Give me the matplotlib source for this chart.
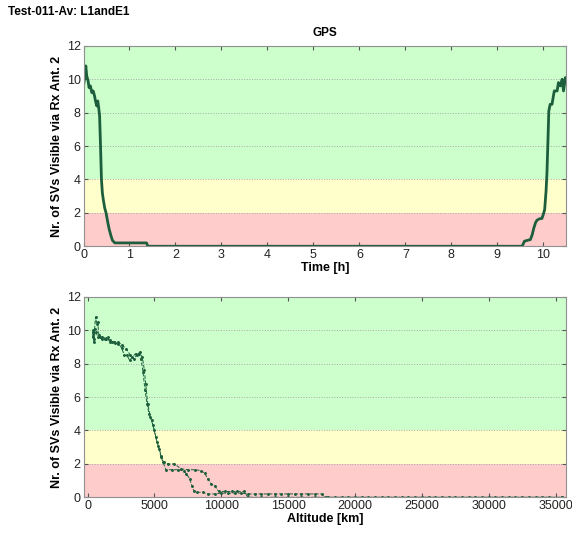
import matplotlib.pyplot as plt

plt.rcParams["font.family"] = ["Liberation Sans", "DejaVu Sans"]

# visible SVs over time (one orbit pass)
time_h = [0.0, 0.02, 0.05, 0.07, 0.1, 0.12, 0.15, 0.18, 0.21, 0.24, 0.26, 0.29,
          0.31, 0.33, 0.35, 0.37, 0.39, 0.41, 0.43, 0.46, 0.49, 0.53, 0.56, 0.6,
          0.63, 0.68, 0.9, 1.1, 1.37, 1.4, 3.0, 5.0, 7.0, 9.0, 9.54, 9.59, 9.65,
          9.72, 9.76, 9.79, 9.83, 9.86, 9.92, 9.97, 10.0, 10.03, 10.06, 10.08,
          10.1, 10.12, 10.15, 10.19, 10.22, 10.24, 10.28, 10.3, 10.33, 10.37,
          10.41, 10.44, 10.48, 10.5]
sv_time = [9.6, 10.0, 10.8, 10.2, 9.9, 9.5, 9.6, 9.2, 9.3, 9.0, 8.7, 8.4,
           8.7, 8.3, 7.8, 6.0, 4.0, 3.2, 2.8, 2.3, 2.0, 1.4, 1.0, 0.6,
           0.35, 0.2, 0.2, 0.2, 0.2, 0.0, 0.0, 0.0, 0.0, 0.0, 0.0, 0.3, 0.35,
           0.4, 0.7, 1.05, 1.4, 1.55, 1.65, 1.66, 1.9, 2.2, 3.3, 4.4,
           6.2, 8.1, 8.5, 8.5, 9.0, 9.3, 9.3, 9.3, 9.8, 9.6,
           10.0, 9.3, 10.1, 9.8]

# visible SVs against altitude, ascending leg
alt_up = [380, 430, 480, 530, 600, 680, 760, 850, 950, 1100, 1300, 1500, 1650,
          1850, 2050, 2300, 2550, 2750, 2950, 3150, 3350, 3600, 3850, 4000,
          4150, 4300, 4450, 4600, 4800, 5000, 5200, 5350, 5500, 5650, 5850,
          6300, 6800, 7200, 7400, 7650, 7800, 7950, 8200, 8600, 9000, 9500,
          10000, 10500, 11000, 11500, 12000, 12500, 13000, 13500, 14000, 14500,
          15000, 15500, 16000, 16500, 17000, 17500, 17800, 18500, 19500,
          20500, 21500, 22500, 23500, 24500, 25500, 26500, 27500, 28500,
          29500, 30500, 31500, 32500, 33500, 34500, 35500]
sv_up = [9.6, 10.0, 9.3, 10.1, 10.8, 10.4, 10.5, 9.7, 9.6, 9.5, 9.5, 9.6, 9.3,
         9.3, 9.25, 9.2, 8.95, 8.5, 8.5, 8.2, 8.4, 8.6, 8.6, 8.3,
         7.5, 6.4, 5.6, 5.0, 4.6, 4.0, 3.3, 2.9, 2.4, 2.1, 1.65,
         1.65, 1.65, 1.6, 1.4, 1.1, 0.7, 0.4, 0.3, 0.3, 0.2, 0.2,
         0.25, 0.25, 0.25, 0.25, 0.2, 0.2, 0.2, 0.2, 0.2, 0.2,
         0.2, 0.2, 0.2, 0.2, 0.2, 0.2, 0.0, 0.0, 0.0,
         0.0, 0.0, 0.0, 0.0, 0.0, 0.0, 0.0, 0.0, 0.0,
         0.0, 0.0, 0.0, 0.0, 0.0, 0.0, 0.0]

# descending leg
alt_down = [35500, 34000, 33000, 32000, 31000, 30000, 29000, 28000, 27000,
            26000, 25000, 24000, 23000, 22000, 21000, 20000, 19000, 18000,
            17000, 16000, 15000, 14000, 13000, 12000, 11700, 11200, 10800,
            10300, 9800, 9500, 9250, 9000, 8750, 8500, 8000, 7500, 7000, 6500,
            6000, 5700, 5500, 5300, 5100, 4900, 4700, 4500, 4350, 4250, 4100,
            3900, 3700, 3450, 3200, 2900, 2600, 2300, 2000, 1700, 1400, 1100,
            800, 600, 450, 380]
sv_down = [0.0, 0.0, 0.0, 0.0, 0.0, 0.0, 0.0, 0.0, 0.0,
           0.0, 0.0, 0.0, 0.0, 0.0, 0.0, 0.0, 0.0, 0.0,
           0.0, 0.0, 0.0, 0.0, 0.0, 0.0, 0.35, 0.35, 0.35,
           0.35, 0.35, 0.7, 0.8, 1.1, 1.45, 1.6, 1.65, 1.65, 1.7, 2.0,
           2.0, 2.1, 2.5, 3.1, 3.6, 4.3, 4.8, 5.6, 6.8, 7.6, 8.4,
           8.7, 8.5, 8.3, 8.5, 8.9, 9.1, 9.3, 9.3, 9.4, 9.5, 9.6,
           9.6, 9.9, 9.5, 9.9]

line_color = "#1d5e3c"
bands = [(0, 2, "#ffcccc"), (2, 4, "#ffffcc"), (4, 12, "#ccffcc")]


def style_axes(ax):
    for lo, hi, col in bands:
        ax.axhspan(lo, hi, color=col, zorder=0, lw=0)
    ax.set_ylim(0, 12)
    ax.set_yticks(range(0, 13, 2))
    ax.yaxis.grid(True, linestyle=":", color="#a8a8a8", lw=0.7)
    ax.set_axisbelow(True)
    ax.tick_params(direction="in", top=True, right=True, labelsize=9,
                   length=3, color="#555555", pad=2, labelcolor="#222222")
    for s in ax.spines.values():
        s.set_color("#909090")
        s.set_linewidth(0.8)
    ax.set_ylabel("Nr. of SVs Visible via Rx Ant. 2", fontsize=9,
                  fontweight="bold", labelpad=3)


fig = plt.figure(figsize=(5.72, 5.33), dpi=100)
ax1 = fig.add_axes([0.146, 0.538, 0.844, 0.376])
ax2 = fig.add_axes([0.146, 0.067, 0.844, 0.376])

style_axes(ax1)
ax1.plot(time_h, sv_time, color=line_color, lw=2)
ax1.set_xlim(0, 10.5)
ax1.set_xticks(range(0, 11))
ax1.set_xlabel("Time [h]", fontsize=9, fontweight="bold", labelpad=1)
ax1.set_title("GPS", fontsize=8.5, fontweight="bold", pad=7)

style_axes(ax2)
for alt, sv in [(alt_up, sv_up), (alt_down, sv_down)]:
    ax2.plot(alt, sv, color=line_color, lw=0.7, ls="--", marker=".", ms=2.2)
ax2.set_xlim(-300, 35800)
ax2.set_xticks(range(0, 35001, 5000))
ax2.set_xlabel("Altitude [km]", fontsize=9, fontweight="bold", labelpad=1)

fig.text(0.014, 0.977, "Test-011-Av: L1andE1", fontsize=8.5, fontweight="bold",
         va="center", ha="left")

fig.savefig("out.png", dpi=100)
